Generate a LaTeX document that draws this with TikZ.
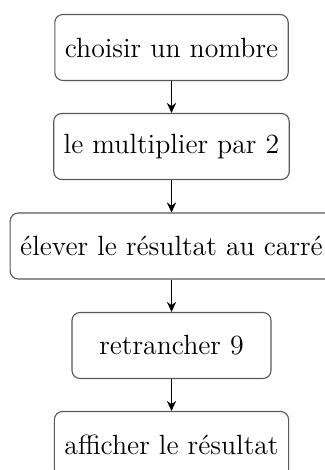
\documentclass[tikz,border=0pt]{standalone}
\usetikzlibrary{arrows.meta}
\begin{document}
\begin{tikzpicture}[x=0.5pt,y=-0.5pt,
  stepbox/.style={draw=black!65, line width=0.55pt, rounded corners=4pt, fill=white,
    minimum width=99.5pt, minimum height=33pt, inner sep=5pt,
    font=\fontsize{13.9}{16}\selectfont},
  conn/.style={-{Stealth[length=5pt,width=4.6pt]}, line width=0.7pt, black}]
\useasboundingbox (0,0) rectangle (325,470);
\node[stepbox] (a) at (171.5,47.5) {choisir un nombre};
\node[stepbox] (b) at (171.5,146.5) {le multiplier par 2};
\node[stepbox] (c) at (171.5,246) {élever le résultat au carré};
\node[stepbox] (d) at (171.5,345.5) {retrancher 9};
\node[stepbox] (e) at (171.5,444.5) {afficher le résultat};
\draw[conn] (a) -- (b);
\draw[conn] (b) -- (c);
\draw[conn] (c) -- (d);
\draw[conn] (d) -- (e);
\end{tikzpicture}
\end{document}
